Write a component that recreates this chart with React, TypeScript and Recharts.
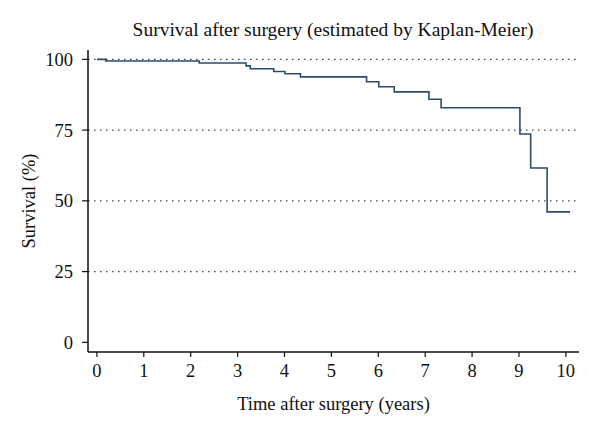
import { LineChart, Line, XAxis, YAxis, ReferenceLine, Label } from "recharts";

// Kaplan-Meier estimate (time in years, survival in %)
const times = [0, 0.19, 2.18, 3.18, 3.27, 3.77, 4.01, 4.34, 5.75, 6.01, 6.34, 7.08, 7.34, 9.02, 9.25, 9.6, 10.09];
const survival = [100, 99.4, 98.7, 97.7, 96.7, 95.7, 94.9, 93.8, 92.1, 90.3, 88.5, 85.9, 82.9, 73.6, 61.6, 46.1, 46.1];
const xTicks = [0, 1, 2, 3, 4, 5, 6, 7, 8, 9, 10];
const yTicks = [0, 25, 50, 75, 100];
const gridValues = [25, 50, 75, 100];

const data = times.map((t, i) => ({ t, s: survival[i] }));

const FONT = '"Liberation Serif", "Times New Roman", serif';
const tickStyle = { fill: "#111", fontSize: 18.5, fontFamily: FONT };

export default function App() {
  return (
    <div style={{ position: "absolute", left: 0, top: 0, width: 600, height: 437, background: "#fff" }}>
      <div
        style={{
          position: "absolute",
          top: 19,
          left: 0,
          width: 666,
          textAlign: "center",
          fontFamily: FONT,
          fontSize: 19.5,
          color: "#111",
          lineHeight: "22px",
        }}
      >
        Survival after surgery (estimated by Kaplan-Meier)
      </div>
      <LineChart width={600} height={437} data={data} margin={{ top: 50, right: 21, left: 0, bottom: 35 }}>
        <XAxis
          dataKey="t"
          type="number"
          domain={[-0.19, 10.28]}
          ticks={xTicks}
          interval={0}
          height={50}
          axisLine={{ stroke: "#111", strokeWidth: 1.5 }}
          tickLine={{ stroke: "#111", strokeWidth: 1.2 }}
          tickSize={5}
          tickMargin={7}
          tick={tickStyle}
        >
          <Label value="Time after surgery (years)" position="insideBottom" offset={-8} style={{ ...tickStyle, textAnchor: "middle" }} />
        </XAxis>
        <YAxis
          type="number"
          domain={[-3.4, 103.3]}
          ticks={yTicks}
          interval={0}
          width={88}
          axisLine={{ stroke: "#111", strokeWidth: 1.5 }}
          tickLine={{ stroke: "#111", strokeWidth: 1.2 }}
          tickSize={6}
          tickMargin={9}
          tick={tickStyle}
        >
          <Label value="Survival (%)" angle={-90} position="insideLeft" offset={28} style={{ ...tickStyle, textAnchor: "middle" }} />
        </YAxis>
        <YAxis
          yAxisId="frame"
          orientation="right"
          type="number"
          domain={[-3.4, 103.3]}
          width={0}
          tick={false}
          tickLine={false}
          axisLine={{ stroke: "#111", strokeWidth: 1.5 }}
        />
        {gridValues.map((v) => (
          <ReferenceLine key={v} y={v} stroke="#444" strokeWidth={1.3} strokeDasharray="1.5 4.5" />
        ))}
        <Line
          type="stepAfter"
          dataKey="s"
          stroke="#2c4a6e"
          strokeWidth={1.6}
          dot={false}
          isAnimationActive={false}
        />
      </LineChart>
    </div>
  );
}
